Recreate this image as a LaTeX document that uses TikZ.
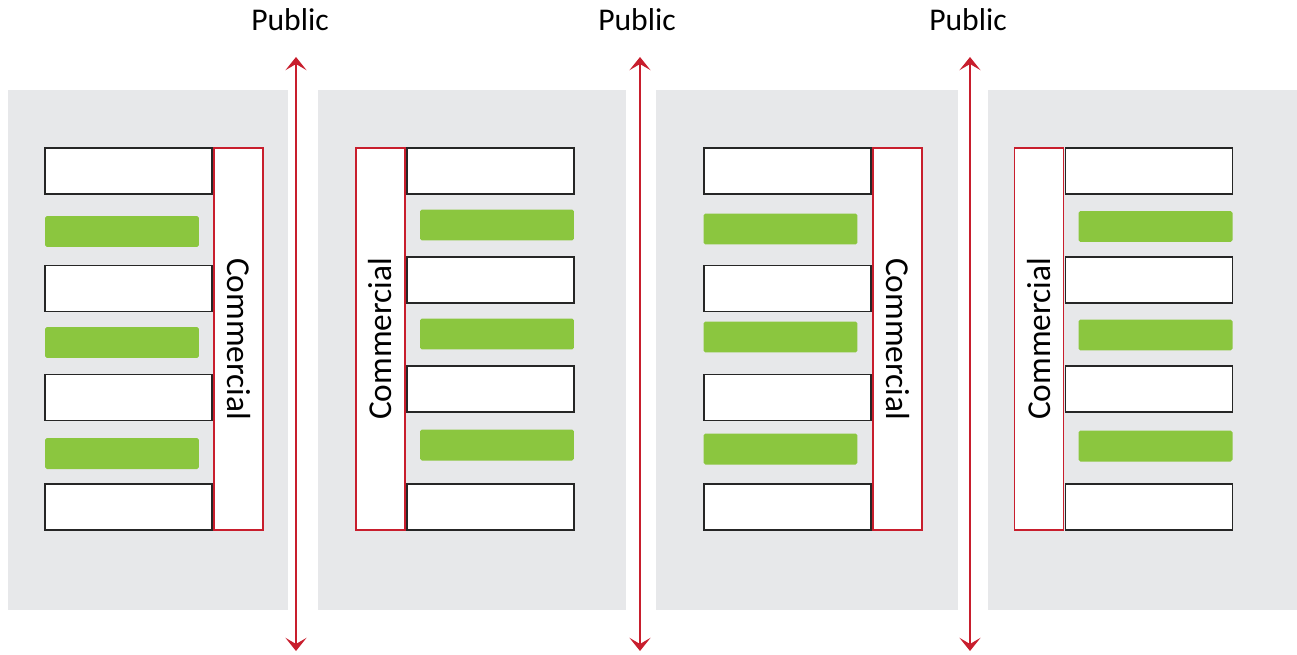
\documentclass[tikz,border=0pt]{standalone}
\usepackage{fontspec}
\setmainfont{Carlito}
\usetikzlibrary{arrows.meta}
\definecolor{panelG}{RGB}{231,232,234}
\definecolor{leafG}{RGB}{139,198,63}
\definecolor{pubR}{RGB}{200,30,45}

\begin{document}
\begin{tikzpicture}[x=0.02cm,y=-0.02cm,
  panel/.style={shape=rectangle,fill=panelG,inner sep=0pt},
  unit/.style={shape=rectangle,draw=black!85,fill=white,line width=0.85pt,minimum width=3.34cm,minimum height=0.92cm,inner sep=0pt},
  leaf/.style={shape=rectangle,fill=leafG,rounded corners=1pt,minimum width=3.08cm,minimum height=0.62cm,inner sep=0pt},
  shop/.style={shape=rectangle,draw=pubR,fill=white,line width=0.65pt,minimum width=7.64cm,minimum height=0.98cm,inner sep=0pt,font=\fontsize{19}{22}\selectfont},
  shopL/.style={shop,rotate=-90},
  shopR/.style={shop,rotate=90},
  street/.style={draw=pubR,line width=1.2pt,{Stealth[length=7.5pt,width=12pt,inset=3.5pt]}-{Stealth[length=7.5pt,width=12pt,inset=3.5pt]}},
  tag/.style={font=\fontsize{18}{21}\selectfont}]
\useasboundingbox (0,0) rectangle (1297,655);

% panels
\node[panel,minimum width=5.6cm,minimum height=10.4cm] (P1) at (148,350) {};
\node[panel,minimum width=6.16cm,minimum height=10.4cm] (P2) at (472,350) {};
\node[panel,minimum width=6.04cm,minimum height=10.4cm] (P3) at (807,350) {};
\node[panel,minimum width=6.18cm,minimum height=10.4cm] (P4) at (1142.5,350) {};

% block 1
\node[unit] (A1) at (128.5,171) {};
\node[leaf] (G1) at (122,231.5) {};
\node[unit] (A2) at (128.5,288.5) {};
\node[leaf] (G2) at (122,342.5) {};
\node[unit] (A3) at (128.5,397.5) {};
\node[leaf] (G3) at (122,453.5) {};
\node[unit] (A4) at (128.5,507) {};
\node[shopL] (C1) at (238.5,339) {Commercial};

% block 2
\node[shopR] (C2) at (380.5,339) {Commercial};
\node[unit] (B1) at (490.5,171) {};
\node[leaf] (H1) at (497,225) {};
\node[unit] (B2) at (490.5,280) {};
\node[leaf] (H2) at (497,334) {};
\node[unit] (B3) at (490.5,389) {};
\node[leaf] (H3) at (497,445) {};
\node[unit] (B4) at (490.5,507) {};

% block 3
\node[unit] (D1) at (787.5,171) {};
\node[leaf] (K1) at (780.5,229) {};
\node[unit] (D2) at (787.5,288.5) {};
\node[leaf] (K2) at (780.5,337) {};
\node[unit] (D3) at (787.5,397.5) {};
\node[leaf] (K3) at (780.5,449) {};
\node[unit] (D4) at (787.5,507) {};
\node[shopL] (C3) at (897.5,339) {Commercial};

% block 4
\node[shopR] (C4) at (1039,339) {Commercial};
\node[unit] (E1) at (1149,171) {};
\node[leaf] (M1) at (1155.5,226.5) {};
\node[unit] (E2) at (1149,280) {};
\node[leaf] (M2) at (1155.5,335) {};
\node[unit] (E3) at (1149,389) {};
\node[leaf] (M3) at (1155.5,446) {};
\node[unit] (E4) at (1149,507) {};

% public streets
\node[tag] (T1) at (290,20) {Public};
\node[tag] (T2) at (637,20) {Public};
\node[tag] (T3) at (968,20) {Public};
\coordinate (S1a) at (296,57);
\coordinate (S1b) at (296,651);
\coordinate (S2a) at (640,57);
\coordinate (S2b) at (640,651);
\coordinate (S3a) at (970,57);
\coordinate (S3b) at (970,651);
\draw[street] (S1a) -- (S1b);
\draw[street] (S2a) -- (S2b);
\draw[street] (S3a) -- (S3b);
\end{tikzpicture}
\end{document}
